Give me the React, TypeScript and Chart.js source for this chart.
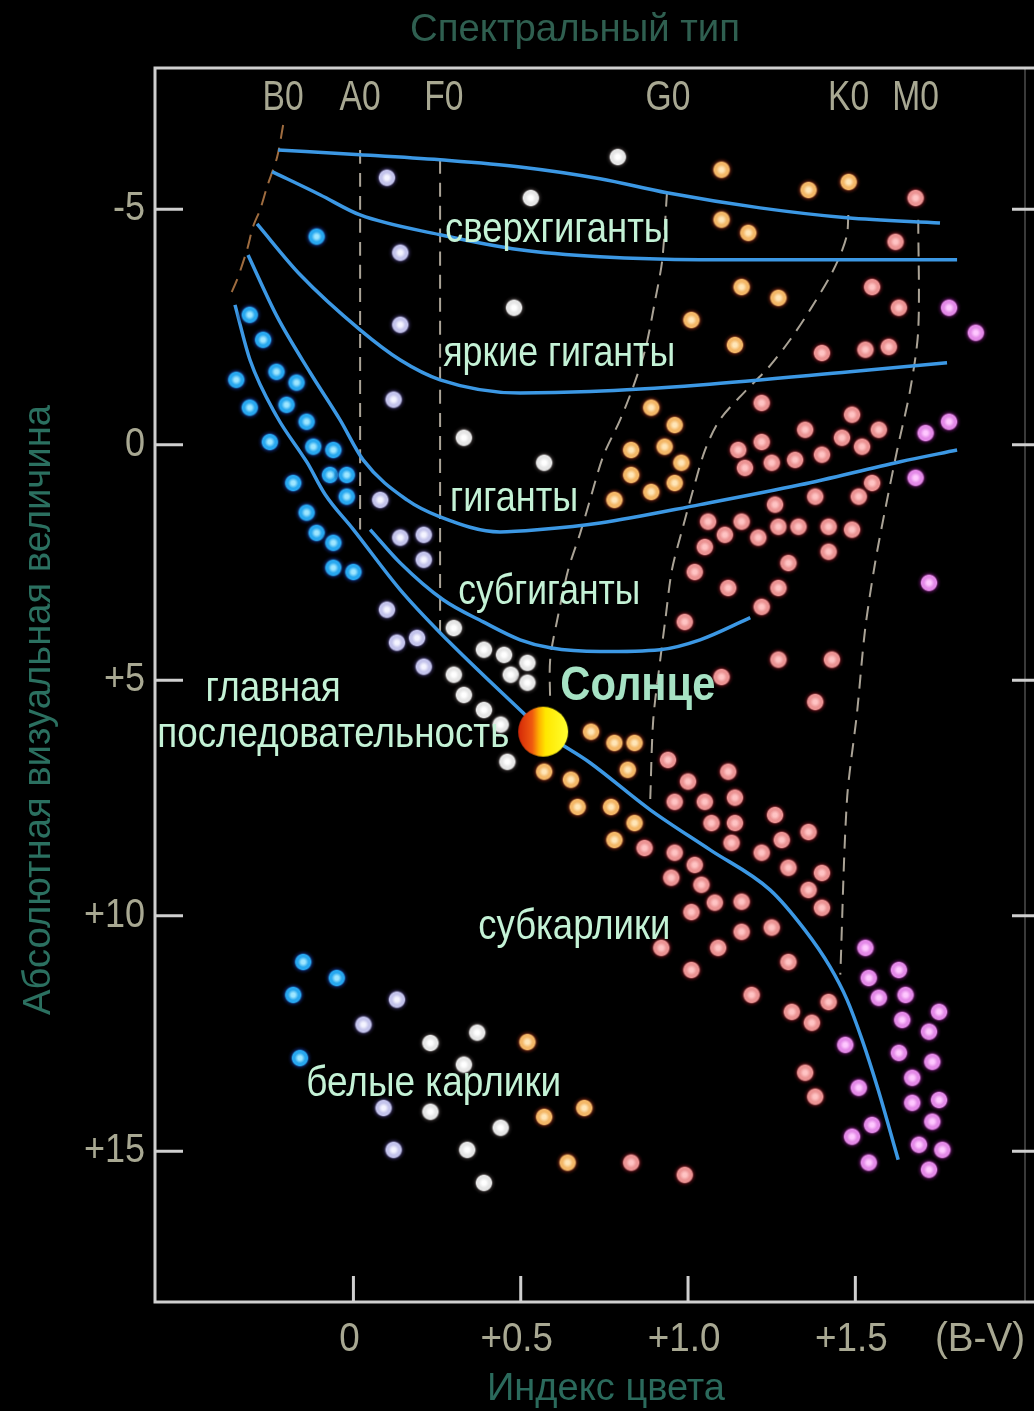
import { useEffect, useRef } from "react";
import { Chart, registerables } from "chart.js";

Chart.register(...registerables);

// ---------- axes ----------
const X_MIN = -0.593;
const X_MAX = 2.007;
const Y_MIN = -8;
const Y_MAX = 18.2;

const xTickValues = [0, 0.5, 1.0, 1.5];
const xTickLabels = ["0", "+0.5", "+1.0", "+1.5"];
const yTickValues = [-5, 0, 5, 10, 15];
const yTickLabels = ["-5", "0", "+5", "+10", "+15"];
const spectralTypes = ["B0", "A0", "F0", "G0", "K0", "M0"];
const spectralX = [-0.21, 0.02, 0.27, 0.94, 1.48, 1.68];

// ---------- luminosity class curves (B-V, Mv) ----------
const supergiantUpper = [[-0.225, -6.26], [0.02, -6.16], [0.259, -6.05], [0.498, -5.9], [0.737, -5.65], [0.937, -5.35], [1.215, -5.03], [1.475, -4.82], [1.753, -4.71]];
const supergiantLower = [[-0.243, -5.8], [-0.1, -5.31], [0.02, -4.88], [0.259, -4.46], [0.498, -4.14], [0.737, -3.99], [1.036, -3.93], [1.484, -3.93], [1.804, -3.93]];
const brightGiants = [[-0.288, -4.69], [-0.159, -3.61], [0.02, -2.44], [0.14, -1.8], [0.259, -1.38], [0.498, -1.1], [0.707, -1.13], [1.036, -1.27], [1.484, -1.55], [1.774, -1.74]];
const giants = [[-0.315, -4.03], [-0.228, -2.72], [-0.129, -1.53], [-0.04, -0.53], [0.029, 0.32], [0.16, 1.17], [0.259, 1.53], [0.438, 1.85], [0.558, 1.8], [0.737, 1.66], [1.036, 1.27], [1.335, 0.85], [1.634, 0.36], [1.804, 0.11]];
const subgiants = [[0.05, 1.8], [0.14, 2.51], [0.268, 3.29], [0.388, 3.76], [0.498, 4.14], [0.588, 4.31], [0.737, 4.39], [0.916, 4.35], [1.036, 4.14], [1.186, 3.67]];
const mainSequence = [[-0.354, -2.97], [-0.309, -1.8], [-0.228, -0.59], [-0.138, 0.38], [-0.085, 1.05], [0.0, 1.8], [0.14, 3.08], [0.259, 3.99], [0.507, 5.69], [0.567, 6.09], [0.707, 6.75], [0.887, 7.75], [1.066, 8.6], [1.245, 9.45], [1.349, 10.3], [1.424, 11.08], [1.475, 11.78], [1.52, 12.63], [1.568, 13.69], [1.628, 15.18]];

// ---------- spectral-type boundaries (dashed) ----------
const boundaryB0 = [[-0.21, -6.79], [-0.228, -6.11], [-0.258, -5.48], [-0.279, -4.99], [-0.3, -4.63], [-0.318, -4.14], [-0.348, -3.5], [-0.368, -3.18]];
const boundaryA0 = [[0.02, -6.26], [0.02, 1.8]];
const boundaryF0 = [[0.259, -6.05], [0.259, 4.14]];
const boundaryG0 = [[0.937, -5.35], [0.923, -3.93], [0.902, -3.08], [0.872, -2.02], [0.836, -1.23], [0.797, -0.53], [0.746, 0.25], [0.707, 1.17], [0.678, 1.87], [0.642, 2.65], [0.609, 3.72], [0.588, 4.56], [0.588, 5.52]];
const boundaryK0 = [[1.479, -4.88], [1.475, -4.46], [1.455, -4.03], [1.424, -3.57], [1.365, -2.87], [1.305, -2.23], [1.239, -1.63], [1.17, -1.13], [1.095, -0.53], [1.051, 0.11], [1.015, 0.96], [0.985, 1.74], [0.952, 2.65], [0.932, 3.72], [0.917, 4.56], [0.896, 5.84], [0.887, 7.54]];
const boundaryM0 = [[1.688, -4.78], [1.688, -2.44], [1.664, -1.17], [1.625, 0.11], [1.589, 1.38], [1.559, 2.51], [1.529, 3.93], [1.505, 5.69], [1.475, 7.54], [1.455, 11.25]];

// ---------- stars (B-V, Mv) ----------
const blueStars = [[-0.11, -4.42], [-0.31, -2.76], [-0.27, -2.23], [-0.35, -1.38], [-0.23, -1.55], [-0.17, -1.32], [-0.31, -0.79], [-0.2, -0.85], [-0.14, -0.49], [-0.25, -0.06], [-0.12, 0.04], [-0.06, 0.11], [-0.07, 0.64], [-0.02, 0.64], [-0.18, 0.81], [-0.02, 1.1], [-0.14, 1.44], [-0.11, 1.87], [-0.06, 2.08], [-0.06, 2.61], [0.0, 2.7], [-0.15, 10.98], [-0.05, 11.32], [-0.18, 11.68], [-0.16, 13.02]];
const lavenderStars = [[0.1, -5.67], [0.14, -4.08], [0.14, -2.55], [0.12, -0.96], [0.08, 1.17], [0.14, 1.97], [0.21, 1.91], [0.21, 2.44], [0.1, 3.5], [0.13, 4.2], [0.19, 4.1], [0.21, 4.71], [0.13, 11.78], [0.03, 12.31], [0.09, 14.08], [0.12, 14.97]];
const whiteStars = [[0.53, -5.24], [0.48, -2.91], [0.79, -6.11], [0.33, -0.15], [0.57, 0.38], [0.3, 3.89], [0.39, 4.35], [0.45, 4.46], [0.52, 4.63], [0.3, 4.88], [0.47, 4.88], [0.52, 5.05], [0.33, 5.31], [0.39, 5.63], [0.44, 5.94], [0.46, 6.73], [0.23, 12.7], [0.37, 12.48], [0.33, 13.16], [0.23, 14.16], [0.44, 14.5], [0.34, 14.97], [0.39, 15.67]];
const orangeStars = [[1.1, -5.84], [1.1, -4.78], [1.18, -4.5], [1.36, -5.41], [1.48, -5.58], [1.16, -3.35], [1.27, -3.12], [1.01, -2.65], [1.14, -2.12], [0.89, -0.79], [0.96, -0.42], [0.83, 0.11], [0.93, 0.04], [0.98, 0.38], [0.83, 0.64], [0.96, 0.81], [0.89, 1.0], [0.78, 1.17], [0.71, 6.09], [0.78, 6.33], [0.84, 6.33], [0.57, 6.94], [0.82, 6.9], [0.65, 7.11], [0.67, 7.69], [0.77, 7.69], [0.84, 8.03], [0.78, 8.39], [0.52, 12.68], [0.57, 14.27], [0.69, 14.08], [0.64, 15.24]];
const pinkStars = [[1.68, -5.24], [1.62, -4.31], [1.55, -3.35], [1.63, -2.91], [1.4, -1.95], [1.53, -2.02], [1.6, -2.08], [1.22, -0.89], [1.49, -0.64], [1.35, -0.32], [1.46, -0.15], [1.57, -0.32], [1.22, -0.06], [1.15, 0.11], [1.52, 0.04], [1.4, 0.21], [1.32, 0.32], [1.25, 0.38], [1.17, 0.49], [1.55, 0.81], [1.38, 1.1], [1.51, 1.1], [1.26, 1.27], [1.06, 1.63], [1.16, 1.63], [1.27, 1.74], [1.33, 1.74], [1.42, 1.74], [1.49, 1.8], [1.11, 1.91], [1.21, 1.97], [1.05, 2.17], [1.42, 2.27], [1.3, 2.51], [1.02, 2.7], [1.12, 3.04], [1.27, 3.04], [1.22, 3.44], [0.99, 3.76], [1.27, 4.56], [1.43, 4.56], [1.1, 4.93], [1.38, 5.46], [0.94, 6.69], [1.12, 6.94], [1.0, 7.15], [0.96, 7.58], [1.05, 7.58], [1.14, 7.49], [1.26, 7.86], [1.07, 8.03], [1.14, 8.03], [1.36, 8.22], [0.87, 8.56], [1.13, 8.45], [1.28, 8.39], [0.96, 8.66], [1.22, 8.66], [1.02, 8.92], [1.3, 8.98], [1.4, 9.09], [0.95, 9.19], [1.04, 9.34], [1.36, 9.45], [1.08, 9.72], [1.16, 9.7], [1.4, 9.83], [1.01, 9.92], [1.16, 10.34], [1.25, 10.25], [0.92, 10.68], [1.09, 10.68], [1.3, 10.98], [1.01, 11.15], [1.19, 11.68], [1.42, 11.83], [1.31, 12.04], [1.37, 12.27], [1.35, 13.33], [1.38, 13.84], [0.83, 15.24], [0.99, 15.5]];
const magentaStars = [[1.78, -2.91], [1.86, -2.38], [1.78, -0.49], [1.71, -0.25], [1.68, 0.7], [1.72, 2.93], [1.53, 10.68], [1.63, 11.15], [1.54, 11.32], [1.65, 11.68], [1.57, 11.74], [1.75, 12.04], [1.64, 12.21], [1.72, 12.46], [1.47, 12.74], [1.63, 12.91], [1.73, 13.1], [1.67, 13.44], [1.51, 13.65], [1.75, 13.91], [1.67, 13.97], [1.73, 14.37], [1.55, 14.44], [1.49, 14.69], [1.69, 14.86], [1.76, 14.97], [1.54, 15.24], [1.72, 15.39]];
const sunPoint = [[0.567, 6.09]];

// ---------- region labels ----------
const regionLabels = ["сверхгиганты", "яркие гиганты", "гиганты", "субгиганты", "главная", "последовательность", "Солнце", "субкарлики", "белые карлики"];
const regionLabelX = [0.61, 0.615, 0.48, 0.585, -0.24, -0.06, 0.85, 0.66, 0.24];
const regionLabelY = [-4.56, -1.91, 1.17, 3.14, 5.2, 6.16, 5.14, 10.25, 13.59];

// styles (pixel widths of the label texts)
const regionLabelWidth = [225, 232, 128, 182, 135, 352, 155, 192, 255];

const FONT = '"Liberation Sans", "DejaVu Sans", Arial, sans-serif';

const toXY = (arr: number[][]) => arr.map(([x, y]) => ({ x, y }));

function makeDot(core: string, main: string, halo: string, r = 13) {
  const c = document.createElement("canvas");
  c.width = c.height = r * 2;
  const g = c.getContext("2d")!;
  const grad = g.createRadialGradient(r, r, 0, r, r, r);
  grad.addColorStop(0, core);
  grad.addColorStop(0.15, core);
  grad.addColorStop(0.4, main);
  grad.addColorStop(0.58, main);
  grad.addColorStop(0.7, halo);
  grad.addColorStop(1, "rgba(0,0,0,0)");
  g.fillStyle = grad;
  g.fillRect(0, 0, 2 * r, 2 * r);
  return c;
}

function makeSun(r = 25) {
  const c = document.createElement("canvas");
  c.width = c.height = r * 2 + 4;
  const g = c.getContext("2d")!;
  const cx = r + 2;
  const grad = g.createLinearGradient(cx - r, 0, cx + r, 0);
  grad.addColorStop(0, "#d42808");
  grad.addColorStop(0.28, "#f05a10");
  grad.addColorStop(0.42, "#ffb400");
  grad.addColorStop(0.55, "#ffe800");
  grad.addColorStop(1, "#ffff30");
  g.fillStyle = grad;
  g.beginPath();
  g.arc(cx, cx, r, 0, Math.PI * 2);
  g.fill();
  return c;
}

function drawText(
  ctx: CanvasRenderingContext2D,
  text: string,
  x: number,
  y: number,
  size: number,
  color: string,
  opts: { weight?: string; width?: number; sx?: number; align?: CanvasTextAlign } = {}
) {
  ctx.save();
  ctx.font = `${opts.weight || "normal"} ${size}px ${FONT}`;
  const w = ctx.measureText(text).width;
  const s = opts.width ? opts.width / w : opts.sx || 1;
  ctx.translate(x, y);
  ctx.scale(s, 1);
  ctx.fillStyle = color;
  ctx.textAlign = opts.align || "center";
  ctx.textBaseline = "middle";
  ctx.fillText(text, 0, 0);
  ctx.restore();
}

export default function App() {
  const ref = useRef<HTMLCanvasElement | null>(null);

  useEffect(() => {
    document.body.style.margin = "0";
    document.body.style.background = "#000";
    document.documentElement.style.background = "#000";
    const canvas = ref.current;
    if (!canvas) return;

    const blueDot = makeDot("#9ee6ff", "#28a8f0", "rgba(20,50,140,0.45)");
    const lavDot = makeDot("#f4f4ff", "#c4c4ec", "rgba(70,60,120,0.4)");
    const whiteDot = makeDot("#ffffff", "#e6e6e6", "rgba(90,80,80,0.35)");
    const orangeDot = makeDot("#ffe6b8", "#f4b868", "rgba(130,40,20,0.45)");
    const pinkDot = makeDot("#ffc4c4", "#ec9494", "rgba(120,20,30,0.45)");
    const magentaDot = makeDot("#ffc8ff", "#e48ae8", "rgba(110,20,110,0.45)");
    const sunImg = makeSun();

    const curve = (data: number[][]) => ({
      data: toXY(data),
      showLine: true,
      borderColor: "#3c98e4",
      borderWidth: 3.5,
      pointRadius: 0,
      cubicInterpolationMode: "monotone",
      fill: false,
      order: 3,
    });
    const dashed = (data: number[][], color = "rgba(200,192,176,0.85)") => ({
      data: toXY(data),
      showLine: true,
      borderColor: color,
      borderWidth: 2,
      borderDash: [14, 9],
      pointRadius: 0,
      tension: 0.3,
      fill: false,
      order: 4,
    });
    const stars = (data: number[][], img: HTMLCanvasElement) => ({
      data: toXY(data),
      pointStyle: img,
      pointRadius: 7,
      pointHoverRadius: 7,
      showLine: false,
      order: 2,
    });

    const datasets: any[] = [
      dashed(boundaryB0, "rgba(176,120,70,0.9)"),
      dashed(boundaryA0),
      dashed(boundaryF0),
      dashed(boundaryG0),
      dashed(boundaryK0),
      dashed(boundaryM0),
      curve(supergiantUpper),
      curve(supergiantLower),
      curve(brightGiants),
      curve(giants),
      curve(subgiants),
      curve(mainSequence),
      stars(blueStars, blueDot),
      stars(lavenderStars, lavDot),
      stars(whiteStars, whiteDot),
      stars(orangeStars, orangeDot),
      stars(pinkStars, pinkDot),
      stars(magentaStars, magentaDot),
      { data: toXY(sunPoint), pointStyle: sunImg, pointRadius: 25, showLine: false, order: 1 },
    ];

    const decor = {
      id: "decor",
      beforeDraw(chart: any) {
        const ctx = chart.ctx as CanvasRenderingContext2D;
        ctx.save();
        ctx.fillStyle = "#000";
        ctx.fillRect(0, 0, chart.width, chart.height);
        ctx.restore();
      },
      afterDraw(chart: any) {
        const ctx = chart.ctx as CanvasRenderingContext2D;
        const { left, top, right, bottom } = chart.chartArea;
        const xs = chart.scales.x;
        const ys = chart.scales.y;
        ctx.save();
        // faint right border
        ctx.strokeStyle = "#3a3a3a";
        ctx.lineWidth = 2;
        ctx.beginPath();
        ctx.moveTo(right, top);
        ctx.lineTo(right, bottom);
        ctx.stroke();
        // frame
        ctx.strokeStyle = "#cfcfcf";
        ctx.lineWidth = 3;
        ctx.beginPath();
        ctx.moveTo(chart.width, top);
        ctx.lineTo(left, top);
        ctx.lineTo(left, bottom);
        ctx.lineTo(chart.width, bottom);
        ctx.stroke();
        // ticks
        ctx.lineWidth = 3;
        yTickValues.forEach((v) => {
          const py = ys.getPixelForValue(v);
          ctx.beginPath();
          ctx.moveTo(left, py);
          ctx.lineTo(left + 28, py);
          ctx.moveTo(right - 13, py);
          ctx.lineTo(chart.width, py);
          ctx.stroke();
        });
        xTickValues.forEach((v) => {
          const px = xs.getPixelForValue(v);
          ctx.beginPath();
          ctx.moveTo(px, bottom);
          ctx.lineTo(px, bottom - 26);
          ctx.stroke();
        });
        ctx.restore();

        const tickColor = "#a8a892";
        yTickValues.forEach((v, i) => {
          drawText(ctx, yTickLabels[i], left - 10, ys.getPixelForValue(v), 40, tickColor, { sx: 0.9, align: "right" });
        });
        xTickValues.forEach((v, i) => {
          drawText(ctx, xTickLabels[i], xs.getPixelForValue(v) - 4, bottom + 38, 40, tickColor, { sx: 0.92 });
        });
        drawText(ctx, "(B-V)", 980, bottom + 38, 40, tickColor, { width: 90 });
        spectralTypes.forEach((t, i) => {
          drawText(ctx, t, xs.getPixelForValue(spectralX[i]), top + 30, 42, tickColor, { sx: 0.8 });
        });

        // titles
        drawText(ctx, "Спектральный тип", 575, 31, 38, "#2f5f50", { width: 330 });
        drawText(ctx, "Индекс цвета", 606, 1390, 38, "#2b6a5c", { width: 238 });
        ctx.save();
        ctx.translate(40, 710);
        ctx.rotate(-Math.PI / 2);
        drawText(ctx, "Абсолютная визуальная величина", 0, 0, 38, "#2b7060", { width: 610 });
        ctx.restore();

        // region labels
        regionLabels.forEach((t, i) => {
          const isSun = t === "Солнце";
          drawText(
            ctx,
            t,
            xs.getPixelForValue(regionLabelX[i]),
            ys.getPixelForValue(regionLabelY[i]),
            isSun ? 48 : 42,
            isSun ? "#a6e2c4" : "#c4f2d6",
            { weight: isSun ? "bold" : "normal", width: regionLabelWidth[i] }
          );
        });
      },
    };

    const chart = new Chart(canvas, {
      type: "scatter",
      data: { datasets },
      options: {
        animation: false,
        responsive: false,
        devicePixelRatio: 1,
        layout: { autoPadding: false, padding: { left: 155, top: 68, right: 9, bottom: 109 } },
        scales: {
          x: { type: "linear", min: X_MIN, max: X_MAX, display: false },
          y: { type: "linear", min: Y_MIN, max: Y_MAX, reverse: true, display: false },
        },
        plugins: { legend: { display: false }, tooltip: { enabled: false } },
      } as any,
      plugins: [decor],
    });

    return () => chart.destroy();
  }, []);

  return (
    <div style={{ width: 1034, height: 1411, background: "#000", overflow: "hidden" }}>
      <canvas ref={ref} width={1034} height={1411} style={{ display: "block" }} />
    </div>
  );
}
